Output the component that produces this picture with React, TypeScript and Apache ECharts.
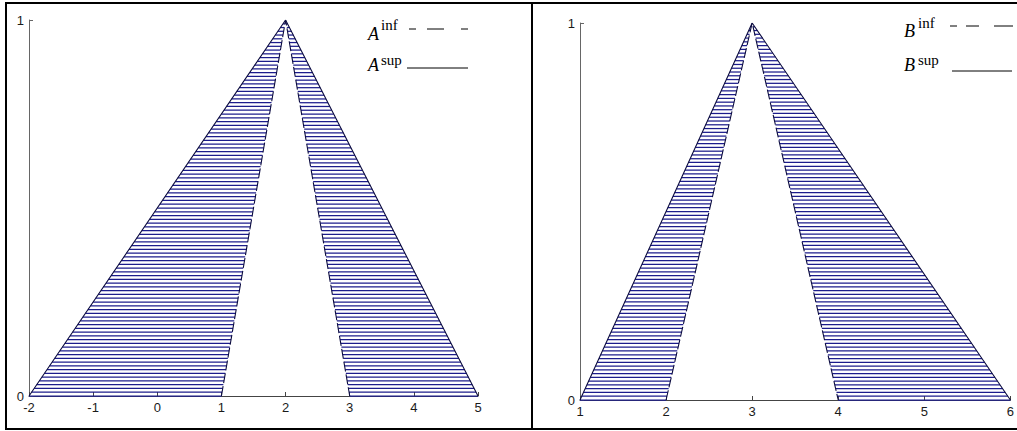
import React, { useEffect, useRef } from "react";
import * as echarts from "echarts";

// Tick labels / axis ranges
const xTicksA = [-2, -1, 0, 1, 2, 3, 4, 5];
const xTicksB = [1, 2, 3, 4, 5, 6];
const yTicks = [0, 1];

// Triangular fuzzy numbers: [left foot, peak, right foot]
const aSup = [-2, 2, 5];
const aInf = [1, 2, 3];
const bSup = [1, 3, 6];
const bInf = [2, 3, 4];
// membership grade at each vertex
const grades = [0, 1, 0];

const HATCH = "#1c1c8c";
const EDGE = "#0c0c40";
const AXIS = "#444";

const hatchItems = (sup: number[], inf: number[]) => [
  [sup[0], inf[0], sup[1]],
  [sup[2], inf[2], sup[1]],
];

const renderHatch = (params: any, api: any) => {
  const outer = api.coord([api.value(0), 0]);
  const inner = api.coord([api.value(1), 0]);
  const apex = api.coord([api.value(2), 1]);
  const n = 100;
  const children: any[] = [];
  for (let k = 0; k <= n; k++) {
    const t = k / n;
    const y = outer[1] + t * (apex[1] - outer[1]);
    const x1 = outer[0] + t * (apex[0] - outer[0]);
    const x2 = inner[0] + t * (apex[0] - inner[0]);
    children.push({
      type: "line",
      shape: { x1, y1: y, x2, y2: y },
      style: { stroke: HATCH, lineWidth: 1.25 },
      silent: true,
    });
  }
  return { type: "group", children };
};

const xAxisCfg = (gridIndex: number, ticks: number[]) => ({
  gridIndex,
  type: "value",
  min: ticks[0],
  max: ticks[ticks.length - 1],
  interval: 1,
  axisLine: { show: true, onZero: false, lineStyle: { color: AXIS, width: 1 } },
  axisTick: { show: true, inside: true, length: 4, lineStyle: { color: AXIS } },
  axisLabel: { color: "#1a1a1a", fontSize: 13, fontFamily: "Liberation Sans", margin: 5 },
  splitLine: { show: false },
});

const yAxisCfg = (gridIndex: number) => ({
  gridIndex,
  type: "value",
  min: yTicks[0],
  max: yTicks[yTicks.length - 1],
  interval: 1,
  axisLine: { show: true, onZero: false, lineStyle: { color: "#666", width: 1 } },
  axisTick: { show: true, inside: true, length: 4, lineStyle: { color: "#666" } },
  axisLabel: { color: "#1a1a1a", fontSize: 13, fontFamily: "Liberation Sans", margin: 5 },
  splitLine: { show: false },
});

const edgeSeries = (xs: number[], idx: number, dashed: boolean) => ({
  type: "line",
  xAxisIndex: idx,
  yAxisIndex: idx,
  data: xs.map((x, i) => [x, grades[i]]),
  symbol: "none",
  z: 5,
  lineStyle: { color: EDGE, width: 1.1, type: dashed ? [10, 3] : "solid" },
});

const serif = '"Liberation Serif", "Times New Roman", serif';

const legendTexts = (
  letter: string,
  lx: number,
  sx: number,
  yMainInf: number,
  ySupInf: number,
  yMainSup: number,
  ySupSup: number
) => [
  { type: "text", style: { text: letter, x: lx, y: yMainInf, font: `italic 18px ${serif}`, fill: "#000", verticalAlign: "middle" } },
  { type: "text", style: { text: "inf", x: sx, y: ySupInf, font: `15px ${serif}`, fill: "#000", verticalAlign: "middle" } },
  { type: "text", style: { text: letter, x: lx, y: yMainSup, font: `italic 18px ${serif}`, fill: "#000", verticalAlign: "middle" } },
  { type: "text", style: { text: "sup", x: sx, y: ySupSup, font: `15px ${serif}`, fill: "#000", verticalAlign: "middle" } },
];

const seg = (x1: number, x2: number, y: number) => ({
  type: "line",
  shape: { x1, y1: y, x2, y2: y },
  style: { stroke: "#000", lineWidth: 1 },
});

export default function App() {
  const ref = useRef<HTMLDivElement>(null);
  useEffect(() => {
    if (!ref.current) return;
    const chart = echarts.init(ref.current, null, { renderer: "svg" });
    chart.setOption({
      animation: false,
      backgroundColor: "#fff",
      grid: [
        { left: 29, top: 20, width: 449, height: 376 },
        { left: 580, top: 23, width: 433, height: 377 },
      ],
      xAxis: [xAxisCfg(0, xTicksA), xAxisCfg(1, xTicksB)],
      yAxis: [yAxisCfg(0), yAxisCfg(1)],
      series: [
        {
          type: "custom",
          xAxisIndex: 0,
          yAxisIndex: 0,
          clip: false,
          renderItem: renderHatch,
          data: hatchItems(aSup, aInf),
          z: 2,
        },
        {
          type: "custom",
          xAxisIndex: 1,
          yAxisIndex: 1,
          clip: false,
          renderItem: renderHatch,
          data: hatchItems(bSup, bInf),
          z: 2,
        },
        edgeSeries(aSup, 0, false),
        edgeSeries(aInf, 0, true),
        edgeSeries(bSup, 1, false),
        edgeSeries(bInf, 1, true),
      ],
      graphic: [
        { type: "rect", shape: { x: 6, y: 3, width: 526, height: 426 }, style: { fill: "none", stroke: "#000", lineWidth: 2 }, z: 100 },
        { type: "rect", shape: { x: 532, y: 3, width: 520, height: 426 }, style: { fill: "none", stroke: "#000", lineWidth: 2 }, z: 100 },
        ...legendTexts("A", 368, 381, 34, 25, 65, 60),
        seg(409, 416, 29), seg(427, 444, 29), seg(461, 468, 29),
        seg(407, 468, 68),
        ...legendTexts("B", 904, 918, 31, 23, 65, 60),
        seg(950, 957, 26), seg(966, 979, 26), seg(994, 1013, 26),
        seg(952, 1012, 71),
      ],
    });
    return () => chart.dispose();
  }, []);
  return (
    <div
      ref={ref}
      style={{ position: "absolute", left: 0, top: 0, width: 1017, height: 431, background: "#fff" }}
    />
  );
}
